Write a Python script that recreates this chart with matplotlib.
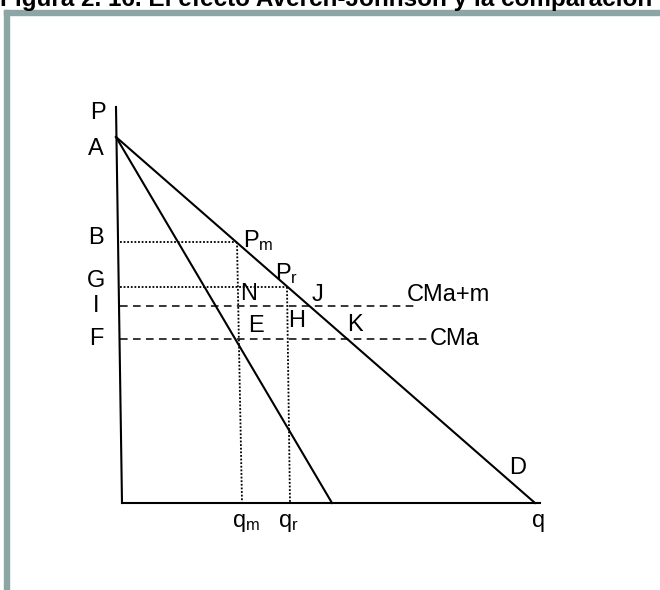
import matplotlib
matplotlib.use("Agg")
import matplotlib.pyplot as plt
from matplotlib.patches import Rectangle

plt.rcParams['font.family'] = ['Liberation Sans', 'DejaVu Sans']
plt.rcParams['mathtext.default'] = 'regular'

TITULO = "Figura 2. 16. El efecto Averch-Johnson y la comparación de precios"

# ejes (cantidad, precio)
eje_p_q = [-6, 0]
eje_p_p = [396, 0]
eje_q_q = [0, 418]
eje_q_p = [0, 0]

# demanda y ingreso marginal salen de A
A = (-6, 366)
demanda_q = [A[0], 413]
demanda_p = [A[1], 0]
img_q = [A[0], 210]
img_p = [A[1], 0]

# precio y cantidad: monopolio (m) y regulado (r)
q_m, p_m = 115, 261
q_r, p_r = 165, 216
q_m_base, q_r_base = 120, 168

# costes medios
cma = 164
cma_m = 197
cma_fin = 308
cma_m_fin = 296
x_inicio = -2

etiquetas = [
    ("P", -24, 390), ("A", -26, 354), ("B", -26, 265), ("G", -26, 222),
    ("I", -26, 197), ("F", -26, 164), ("N", 127, 209), ("J", 195, 208),
    ("E", 134, 177), ("H", 175, 182), ("K", 233, 178), ("D", 396, 35),
]

fig = plt.figure(figsize=(6.6, 5.9), dpi=100)
ax = fig.add_axes([0, 0, 1, 1])
ax.set_xlim(-122, 538)
ax.set_ylim(-87, 503)
ax.axis('off')

# marco gris
gris = '#8ca5a5'
fig.patches.append(Rectangle((4 / 660, 0), 5 / 660, 1 - 10 / 590,
                             transform=fig.transFigure, color=gris, zorder=0))
fig.patches.append(Rectangle((4 / 660, 1 - 15 / 590), 1, 5 / 590,
                             transform=fig.transFigure, color=gris, zorder=0))
fig.text(0.0, 1 - 6 / 590, TITULO, fontsize=17.5, fontweight='bold',
         ha='left', va='baseline')

lw = 1.5
ax.plot(eje_p_q, eje_p_p, color='black', lw=lw)
ax.plot(eje_q_q, eje_q_p, color='black', lw=lw)
ax.plot(demanda_q, demanda_p, color='black', lw=lw)
ax.plot(img_q, img_p, color='black', lw=lw)

punteado = dict(color='black', lw=1.3, linestyle=(0, (1, 1)))
ax.plot([x_inicio, q_m], [p_m, p_m], **punteado)
ax.plot([x_inicio, q_r], [p_r, p_r], **punteado)
ax.plot([q_m, q_m_base], [p_m, 0], **punteado)
ax.plot([q_r, q_r_base], [p_r, 0], **punteado)

rayas = dict(color='black', lw=1.1, linestyle=(0, (5, 3.5)))
ax.plot([x_inicio, cma_m_fin], [cma_m, cma_m], **rayas)
ax.plot([x_inicio, cma_fin], [cma, cma], **rayas)

fs = 17
for txt, x, y in etiquetas:
    ax.text(x, y, txt, fontsize=fs, ha='center', va='center')

ax.text(121, 256, r"P$_{m}$", fontsize=fs, ha='left', va='baseline')
ax.text(153, 223, r"P$_{r}$", fontsize=fs, ha='left', va='baseline')
ax.text(285, 208, "CMa+m", fontsize=fs, ha='left', va='center')
ax.text(cma_fin, cma, "CMa", fontsize=fs, ha='left', va='center')
ax.text(110, -24, r"q$_{m}$", fontsize=fs, ha='left', va='baseline')
ax.text(156, -24, r"q$_{r}$", fontsize=fs, ha='left', va='baseline')
ax.text(410, -24, "q", fontsize=fs, ha='left', va='baseline')

fig.savefig("out.png", dpi=100)
